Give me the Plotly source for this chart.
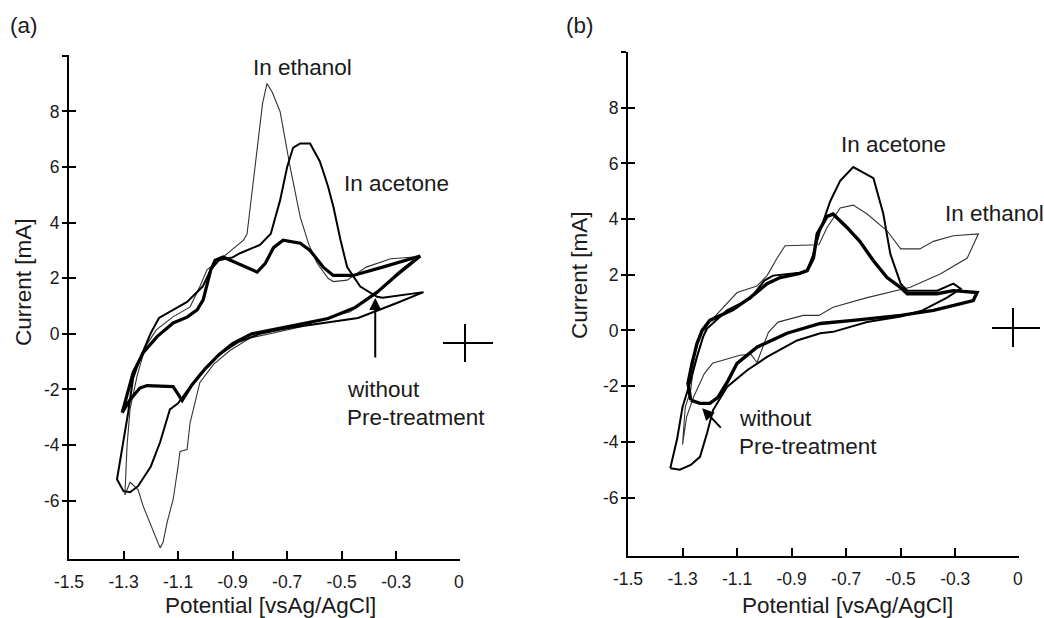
import plotly.graph_objects as go

# ---------------- data ----------------
# Panel (a)
a_eth_x = [-1.295, -1.29, -1.287, -1.276, -1.25, -1.22, -1.18, -1.12, -1.056, -1.02, -0.994, -0.935, -0.86,
           -0.847, -0.83, -0.81, -0.79, -0.774, -0.755, -0.726, -0.689, -0.652, -0.62, -0.59, -0.55, -0.531,
           -0.48, -0.41, -0.32, -0.223,
           -0.296, -0.37, -0.469, -0.579, -0.652, -0.75, -0.836, -0.91, -0.97, -1.02, -1.056, -1.067, -1.093,
           -1.1, -1.118, -1.14, -1.155, -1.166, -1.2, -1.228, -1.247, -1.276, -1.295]
a_eth_y = [-5.8, -4.8, -4.0, -2.7, -1.5, -0.47, 0.14, 0.6, 0.97, 1.7, 2.3, 2.76, 3.37,
           3.6, 5.0, 6.8, 8.3, 9.0, 8.7, 8.0, 6.0, 4.2, 3.2, 2.54, 2.0, 1.88,
           1.93, 2.4, 2.7, 2.77,
           2.2, 1.47, 0.79, 0.5, 0.25, 0.03, -0.15, -0.6, -1.1, -1.75, -3.2, -4.16, -4.23,
           -4.77, -5.95, -6.77, -7.5, -7.7, -6.9, -6.2, -5.6, -5.34, -5.8]

a_ace_x = [-1.283, -1.265, -1.24, -1.215, -1.2, -1.17, -1.118, -1.067, -1.01, -0.98, -0.95, -0.9, -0.873,
           -0.8, -0.76, -0.726, -0.7, -0.678, -0.652, -0.616, -0.58, -0.55, -0.53, -0.505, -0.48, -0.432,
           -0.37, -0.35, -0.2,
           -0.3, -0.44, -0.55, -0.7, -0.8, -0.88, -0.95, -1.02, -1.07, -1.1, -1.13, -1.166, -1.2, -1.247,
           -1.276, -1.3, -1.324, -1.305, -1.283]
a_ace_y = [-2.83, -1.6, -0.9, -0.3, 0.03, 0.57, 0.86, 1.15, 1.7, 2.3, 2.65, 2.75, 2.9,
           3.2, 3.6, 4.8, 6.0, 6.7, 6.85, 6.85, 6.2, 5.3, 4.55, 3.4, 2.4, 1.7,
           1.33, 1.3, 1.5,
           1.1, 0.57, 0.42, 0.2, 0.0, -0.3, -0.75, -1.45, -2.1, -2.5, -2.72, -3.9, -4.77, -5.48,
           -5.7, -5.66, -5.23, -4.05, -2.83]

a_wo_x = [-1.305, -1.265, -1.228, -1.177, -1.118, -1.067, -1.03, -1.008, -0.98, -0.964, -0.935, -0.91,
          -0.81, -0.78, -0.75, -0.715, -0.652, -0.616, -0.568, -0.531, -0.458, -0.35, -0.212,
          -0.3, -0.37, -0.45, -0.55, -0.65, -0.75, -0.83, -0.9, -0.95, -1.0, -1.05, -1.085,
          -1.118, -1.214, -1.24, -1.276, -1.305]
a_wo_y = [-2.84, -1.4, -0.68, -0.1, 0.39, 0.6, 0.86, 1.22, 2.3, 2.65, 2.76, 2.65,
          2.22, 2.54, 3.1, 3.37, 3.26, 3.0, 2.4, 2.1, 2.1, 2.4, 2.8,
          2.1, 1.5, 0.95, 0.55, 0.35, 0.15, 0.0, -0.35, -0.75, -1.25, -1.85, -2.4,
          -1.9, -1.86, -1.95, -2.37, -2.84]

# Panel (b)
b_eth_x = [-1.3, -1.29, -1.27, -1.26, -1.21, -1.1, -1.027, -0.99, -0.953, -0.924, -0.8, -0.77, -0.722,
           -0.674, -0.623, -0.55, -0.5, -0.43, -0.38, -0.307, -0.215,
           -0.256, -0.355, -0.465, -0.623, -0.748, -0.8, -0.857, -0.95, -0.985, -1.027, -1.05, -1.09,
           -1.19, -1.22, -1.26, -1.285, -1.3]
b_eth_y = [-4.1, -2.75, -2.15, -1.3, 0.2, 1.36, 1.6, 1.97, 2.6, 3.04, 3.08, 3.7, 4.4,
           4.5, 4.18, 3.58, 2.93, 2.93, 3.2, 3.4, 3.47,
           2.6, 2.03, 1.55, 1.18, 0.83, 0.54, 0.54, 0.3, -0.07, -1.15, -0.85, -0.89,
           -1.18, -1.55, -2.4, -3.1, -4.1]

b_ace_x = [-1.345, -1.32, -1.3, -1.27, -1.247, -1.225, -1.21, -1.137, -1.052, -1.0, -0.968, -0.87,
           -0.843, -0.82, -0.796, -0.758, -0.722, -0.674, -0.6, -0.564, -0.538, -0.5, -0.476, -0.366,
           -0.307, -0.28,
           -0.33, -0.42, -0.5, -0.623, -0.748, -0.795, -0.88, -0.99, -1.063, -1.137, -1.188, -1.21,
           -1.236, -1.27, -1.31, -1.345]
b_ace_y = [-4.95, -3.9, -2.75, -1.8, -0.95, -0.24, 0.07, 0.72, 1.14, 1.79, 1.97, 2.07,
           2.15, 2.75, 3.58, 4.65, 5.37, 5.87, 5.47, 4.2, 2.75, 1.68, 1.43, 1.43,
           1.68, 1.5,
           1.18, 0.72, 0.5, 0.3, -0.05, -0.1, -0.36, -0.95, -1.43, -2.03, -2.86, -3.68,
           -4.54, -4.83, -5.0, -4.95]

b_wo_x = [-1.27, -1.28, -1.265, -1.247, -1.228, -1.2, -1.115, -1.052, -0.99, -0.942, -0.87, -0.843,
          -0.82, -0.806, -0.77, -0.748, -0.697, -0.65, -0.6, -0.55, -0.5, -0.476, -0.366, -0.307, -0.22,
          -0.234, -0.38, -0.5, -0.674, -0.795, -0.917, -1.027, -1.1, -1.133, -1.17, -1.2, -1.236, -1.27]
b_wo_y = [-2.5, -1.9, -1.18, -0.47, 0.0, 0.36, 0.75, 1.18, 1.68, 1.9, 2.05, 2.15,
          2.6, 3.47, 4.1, 4.18, 3.7, 3.2, 2.5, 1.9, 1.54, 1.32, 1.32, 1.43, 1.36,
          1.07, 0.72, 0.54, 0.36, 0.25, -0.1, -0.6, -1.18, -1.8, -2.4, -2.62, -2.62, -2.5]

x_tick_vals = [-1.5, -1.3, -1.1, -0.9, -0.7, -0.5, -0.3, -0.07]
x_tick_text = ["-1.5", "-1.3", "-1.1", "-0.9", "-0.7", "-0.5", "-0.3", "0"]
y_tick_vals = [-6, -4, -2, 0, 2, 4, 6, 8, 10]
y_tick_text = ["-6", "-4", "-2", "0", "2", "4", "6", "8", ""]

# ---------------- figure ----------------
W, H = 1044, 618
FONT = "Liberation Sans, Arial, sans-serif"
TXT = "#1a1a1a"
TICK_SIZE = 17.5
NOTE_SIZE = 22.5
X_RANGE = [-1.5, -0.068]
YA_RANGE = [-8.1, 10.03]
YB_RANGE = [-8.1, 10.0]

fig = go.Figure()

def add(x, y, w, xa, ya, color="black"):
    fig.add_trace(go.Scatter(x=x, y=y, mode="lines", xaxis=xa, yaxis=ya,
                             line=dict(color=color, width=w), hoverinfo="skip",
                             showlegend=False))

add(a_eth_x, a_eth_y, 1.1, "x", "y", "#333333")
add(a_ace_x, a_ace_y, 2.0, "x", "y")
add(a_wo_x, a_wo_y, 3.2, "x", "y")
add(b_eth_x, b_eth_y, 1.1, "x2", "y2", "#333333")
add(b_ace_x, b_ace_y, 2.0, "x2", "y2")
add(b_wo_x, b_wo_y, 3.4, "x2", "y2")
# invisible traces for overlay tick axes
fig.add_trace(go.Scatter(x=[], y=[], xaxis="x", yaxis="y3", showlegend=False))
fig.add_trace(go.Scatter(x=[], y=[], xaxis="x2", yaxis="y4", showlegend=False))

def xax(domain, rng, anchor):
    return dict(domain=domain, range=rng, anchor=anchor, showline=True, linecolor="black",
                linewidth=2, ticks="inside", ticklen=8, tickwidth=2, tickcolor="black",
                tickvals=x_tick_vals, ticktext=x_tick_text, showgrid=False, zeroline=False,
                automargin=False,
                tickfont=dict(family=FONT, size=TICK_SIZE, color=TXT), ticklabelstandoff=6)

def yax(domain, rng, anchor):
    return dict(domain=domain, range=rng, anchor=anchor, showline=True, linecolor="black",
                linewidth=2, ticks="outside", ticklen=5, tickwidth=2, tickcolor="black",
                tickvals=y_tick_vals, ticktext=y_tick_text, showgrid=False, zeroline=False,
                automargin=False,
                tickfont=dict(family=FONT, size=TICK_SIZE, color=TXT), ticklabelstandoff=-1)

def yin(domain, rng, over, anchor):
    return dict(domain=domain, range=rng, anchor=anchor, overlaying=over, side="left",
                showline=False, ticks="inside", ticklen=7, tickwidth=2, tickcolor="black",
                tickvals=y_tick_vals, showticklabels=False, showgrid=False, zeroline=False,
                automargin=False)

xa_dom = [69 / W, 459.5 / W]
xb_dom = [628 / W, 1018.5 / W]
ya_dom = [1 - 559 / H, 1 - 55 / H]
yb_dom = [1 - 556 / H, 1 - 52 / H]

fig.update_layout(
    width=W, height=H, margin=dict(l=0, r=0, t=0, b=0, autoexpand=False),
    paper_bgcolor="white", plot_bgcolor="white",
    font=dict(family=FONT, color=TXT),
    xaxis=xax(xa_dom, X_RANGE, "y"),
    yaxis=yax(ya_dom, YA_RANGE, "x"),
    xaxis2=xax(xb_dom, X_RANGE, "y2"),
    yaxis2=yax(yb_dom, YB_RANGE, "x2"),
    yaxis3=yin(ya_dom, YA_RANGE, "y", "x"),
    yaxis4=yin(yb_dom, YB_RANGE, "y2", "x2"),
)

def note(text, px, py, xanchor="center", size=NOTE_SIZE):
    fig.add_annotation(text=text, x=px / W, y=1 - py / H, xref="paper", yref="paper",
                       showarrow=False, xanchor=xanchor, yanchor="middle",
                       font=dict(family=FONT, size=size, color=TXT))

note("(a)", 24, 25)
note("(b)", 580, 25)
note("In ethanol", 302, 67)
note("In acetone", 396, 183)
note("without", 345, 389, "left")
note("Pre-treatment", 345, 417, "left")
note("In acetone", 893, 144)
note("In ethanol", 943, 213, "left")
note("without", 737, 418, "left")
note("Pre-treatment", 737, 446, "left")
note("Potential [vsAg/AgCl]", 270, 605)
note("Potential [vsAg/AgCl]", 847, 605)
for px, py in [(23, 282), (579, 275)]:
    fig.add_annotation(text="Current [mA]", x=px / W, y=1 - py / H, xref="paper", yref="paper",
                       showarrow=False, textangle=-90, xanchor="center", yanchor="middle",
                       font=dict(family=FONT, size=NOTE_SIZE, color=TXT))

# arrows
fig.add_annotation(x=-0.377, y=1.29, xref="x", yref="y", ax=0, ay=61,
                   text="", showarrow=True, arrowhead=2, arrowsize=1.2, arrowwidth=2, arrowcolor="black")
fig.add_annotation(x=-1.228, y=-2.79, xref="x2", yref="y2", ax=20, ay=21,
                   text="", showarrow=True, arrowhead=2, arrowsize=1.2, arrowwidth=2, arrowcolor="black")

# crosses (paper coordinates)
for (x0, x1, yc, xc, y0, y1) in [(443, 493, 343, 465, 324, 362), (992, 1040, 328, 1013, 308, 347)]:
    fig.add_shape(type="line", xref="paper", yref="paper", x0=x0 / W, x1=x1 / W,
                  y0=1 - yc / H, y1=1 - yc / H, line=dict(color="black", width=2))
    fig.add_shape(type="line", xref="paper", yref="paper", x0=xc / W, x1=xc / W,
                  y0=1 - y0 / H, y1=1 - y1 / H, line=dict(color="black", width=2))

fig.write_html("out.html", config={"displayModeBar": False},
               post_script="document.body.style.margin='0';document.body.style.overflow='hidden';")
